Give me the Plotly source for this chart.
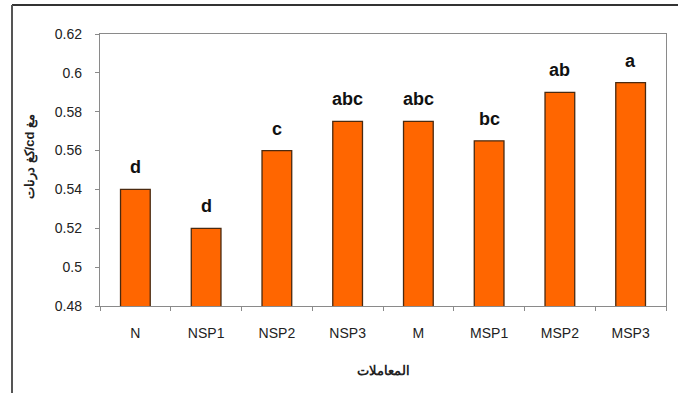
import plotly.graph_objects as go

categories = ["N", "NSP1", "NSP2", "NSP3", "M", "MSP1", "MSP2", "MSP3"]
values = [0.54, 0.52, 0.56, 0.575, 0.575, 0.565, 0.59, 0.595]
letters = ["d", "d", "c", "abc", "abc", "bc", "ab", "a"]
y_ticks = [0.48, 0.5, 0.52, 0.54, 0.56, 0.58, 0.6, 0.62]
y_tick_labels = ["0.48", "0.5", "0.52", "0.54", "0.56", "0.58", "0.6", "0.62"]
x_title = "المعاملات"
y_title = "كغ درنات/cd مغ"

W, H = 678, 393
fx = lambda p: p / W          # pixel x -> paper x
fy = lambda p: 1 - p / H      # pixel y -> paper y

fig = go.Figure()
fig.add_trace(go.Bar(
    x=categories, y=values, base=0,
    marker=dict(color="#FF6600", line=dict(color="#4a2a10", width=1.3)),
    width=0.42,
))

for c, v, t in zip(categories, values, letters):
    fig.add_annotation(x=c, y=v, text="<b>%s</b>" % t, showarrow=False,
                       yanchor="bottom", yshift=10,
                       font=dict(family="Liberation Sans, Arial", size=18, color="#111"))

# axis titles as paper annotations
fig.add_annotation(xref="paper", yref="paper", x=fx(383), y=fy(370),
                   text="<b>%s</b>" % x_title, showarrow=False,
                   xanchor="center", yanchor="middle",
                   font=dict(family="Liberation Sans, Arial", size=13, color="#222"))
fig.add_annotation(xref="paper", yref="paper", x=fx(30), y=fy(157),
                   text="<b>%s</b>" % y_title, showarrow=False, textangle=-90,
                   xanchor="center", yanchor="middle",
                   font=dict(family="Liberation Sans, Arial", size=13, color="#222"))

fig.update_layout(
    width=W, height=H,
    margin=dict(l=0, r=0, t=0, b=0),
    paper_bgcolor="white", plot_bgcolor="white",
    showlegend=False,
    font=dict(family="Liberation Sans, Arial", size=14, color="#222"),
    xaxis=dict(
        domain=[fx(100), fx(666)], automargin=False,
        showline=True, linecolor="#8a8a8a", linewidth=1.3, mirror=True,
        ticks="outside", tickson="boundaries", ticklen=4, tickcolor="#8a8a8a",
        ticklabelstandoff=14,
        showgrid=False,
    ),
    yaxis=dict(
        domain=[fy(306), fy(34)], automargin=False,
        range=[0.48, 0.62], tickvals=y_ticks, ticktext=y_tick_labels,
        showline=True, linecolor="#8a8a8a", linewidth=1.3, mirror=True,
        ticks="outside", ticklen=4, tickcolor="#8a8a8a",
        ticklabelstandoff=10,
        showgrid=False, zeroline=False,
    ),
)

# outer frame lines (top and left), all inside the paper [0, 1] box
fig.add_shape(type="line", xref="paper", yref="paper",
              x0=fx(12), x1=1, y0=fy(5), y1=fy(5),
              line=dict(color="#333333", width=2))
fig.add_shape(type="line", xref="paper", yref="paper",
              x0=fx(12), x1=fx(12), y0=0, y1=fy(5),
              line=dict(color="#555555", width=2))

fig.write_html("out.html", config={"displayModeBar": False},
               post_script="document.body.style.margin='0';")
